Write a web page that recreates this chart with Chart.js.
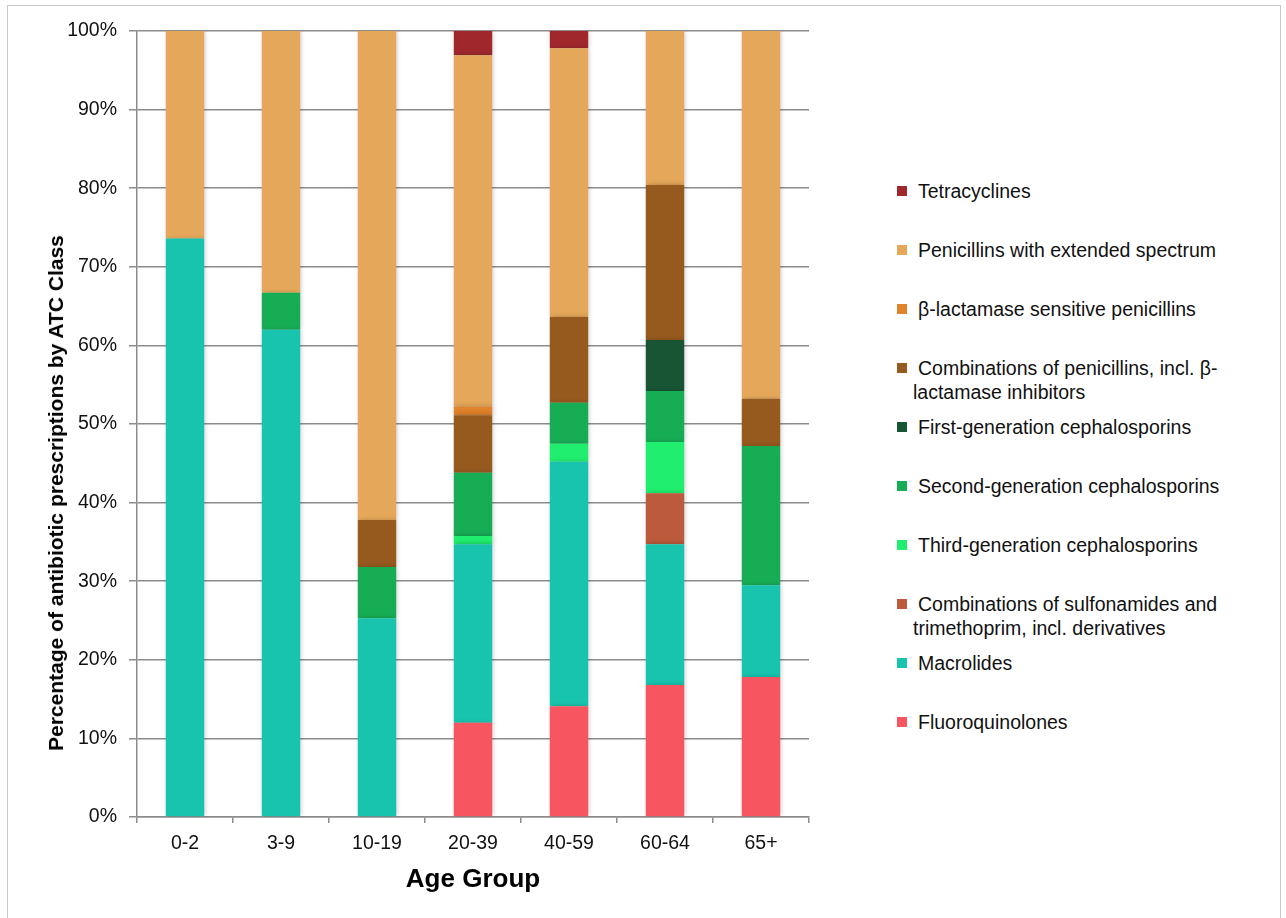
<!DOCTYPE html>
<html>
<head>
<meta charset="utf-8">
<script src="https://cdn.jsdelivr.net/npm/chart.js@4.4.1/dist/chart.umd.min.js"></script>
<style>
  body { margin: 0; background: #fff; font-family: "Liberation Sans", Arial, sans-serif; }
  #wrap { position: relative; width: 1286px; height: 918px; overflow: hidden; }
  #frame { position: absolute; left: 7px; top: 5px; width: 1272px; height: 960px; border: 1.5px solid #c8c8c8; }
  #chart { position: absolute; left: 0; top: 0; }
  #ytitle { position: absolute; left: 56px; top: 493px; transform: translate(-50%, -50%) rotate(-90deg);
            font: bold 21px "Liberation Sans", Arial, sans-serif; white-space: nowrap; color: #000; }
  .li { position: absolute; left: 913px; font-size: 19.5px; line-height: 23.7px; white-space: pre-line;
        text-indent: 5px; color: #111; }
  .sw { position: absolute; left: 897px; width: 10px; height: 10px; }
</style>
</head>
<body>
<div id="wrap">
  <div id="frame"></div>
  <canvas id="chart" width="830" height="918"></canvas>
  <div id="ytitle">Percentage of antibiotic prescriptions by ATC Class</div>
  <div id="legend"></div>
</div>
<script>
// categories (x axis)
const ageGroups = ['0-2', '3-9', '10-19', '20-39', '40-59', '60-64', '65+'];

// share of prescriptions (%) per ATC class, stacked bottom to top
const fluoroquinolones = [0, 0, 0, 12.0, 14.1, 16.8, 17.8];
const macrolides       = [73.6, 62.0, 25.3, 22.7, 31.1, 17.9, 11.7];
const sulfonamides     = [0, 0, 0, 0, 0, 6.5, 0];
const thirdGenCeph     = [0, 0, 0, 1.05, 2.3, 6.5, 0];
const secondGenCeph    = [0, 4.7, 6.5, 8.05, 5.2, 6.5, 17.7];
const firstGenCeph     = [0, 0, 0, 0, 0, 6.5, 0];
const penCombinations  = [0, 0, 6.0, 7.3, 10.9, 19.7, 6.0];
const betaLactamaseSens = [0, 0, 0, 1.1, 0, 0, 0];
const penExtended      = [26.4, 33.3, 62.2, 44.7, 34.2, 19.6, 46.8];
const tetracyclines    = [0, 0, 0, 3.1, 2.2, 0, 0];

const classNames = [
  'Fluoroquinolones',
  'Macrolides',
  'Combinations of sulfonamides and\ntrimethoprim, incl. derivatives',
  'Third-generation cephalosporins',
  'Second-generation cephalosporins',
  'First-generation cephalosporins',
  'Combinations of penicillins, incl. β-\nlactamase inhibitors',
  'β-lactamase sensitive penicillins',
  'Penicillins with extended spectrum',
  'Tetracyclines'
];
const classValues = [fluoroquinolones, macrolides, sulfonamides, thirdGenCeph, secondGenCeph,
  firstGenCeph, penCombinations, betaLactamaseSens, penExtended, tetracyclines];
const classColors = ['#f75661', '#19c4ae', '#bc5a3c', '#1fee6e', '#17ad55',
  '#185535', '#96591e', '#e0832a', '#e5a85a', '#a0282d'];

const yTicks = [0, 10, 20, 30, 40, 50, 60, 70, 80, 90, 100];

const font = '"Liberation Sans", Arial, sans-serif';
const axisGray = '#8c8c8c';

// soft shadow around bars like the original
const barShadow = {
  id: 'barShadow',
  beforeDatasetsDraw(c) {
    const ctx = c.ctx;
    ctx.save();
    ctx.shadowColor = 'rgba(0,0,0,0.25)';
    ctx.shadowBlur = 5;
    ctx.shadowOffsetX = 1;
  },
  afterDatasetsDraw(c) { c.ctx.restore(); }
};

const chart = new Chart(document.getElementById('chart'), {
  type: 'bar',
  data: {
    labels: ageGroups,
    datasets: classNames.map((n, i) => ({
      label: n.replace('\n', ''),
      data: classValues[i],
      backgroundColor: classColors[i],
      borderWidth: 0,
      barPercentage: 0.4,
      categoryPercentage: 1
    }))
  },
  options: {
    responsive: false,
    animation: false,
    devicePixelRatio: 1,
    layout: { padding: { top: 31, right: 21, bottom: 0, left: 0 } },
    plugins: { legend: { display: false }, tooltip: { enabled: false } },
    scales: {
      x: {
        stacked: true,
        grid: { drawOnChartArea: false, drawTicks: true, tickLength: 6, color: axisGray, lineWidth: 1.5, offset: true },
        border: { color: axisGray, width: 1.5 },
        ticks: { color: '#111', padding: 9, font: { family: font, size: 19.5 } },
        title: { display: true, text: 'Age Group', color: '#000',
                 font: { family: font, size: 26, weight: 'bold' }, padding: { top: 0, bottom: 23 } },
        afterFit(s) { s.height = 101; }
      },
      y: {
        stacked: true,
        min: yTicks[0],
        max: yTicks[yTicks.length - 1],
        afterBuildTicks(s) { s.ticks = yTicks.map(v => ({ value: v })); },
        grid: { color: axisGray, lineWidth: 1.5, tickLength: 8 },
        border: { color: axisGray, width: 1.5 },
        ticks: { color: '#111', padding: 12, font: { family: font, size: 19.5 }, callback: v => v + '%' },
        afterFit(s) { s.width = 137; }
      }
    }
  },
  plugins: [barShadow]
});

// legend: top entry is the top of the stack
const legend = document.getElementById('legend');
chart.data.datasets.slice().reverse().forEach((ds, k) => {
  const i = classNames.length - 1 - k;
  const cy = 191.7 + k * 59;
  const sw = document.createElement('div');
  sw.className = 'sw';
  sw.style.top = (cy - 6) + 'px';
  sw.style.background = ds.backgroundColor;
  const li = document.createElement('div');
  li.className = 'li';
  li.style.top = (cy - 11.85) + 'px';
  li.textContent = classNames[i];
  legend.appendChild(sw);
  legend.appendChild(li);
});
</script>
</body>
</html>
